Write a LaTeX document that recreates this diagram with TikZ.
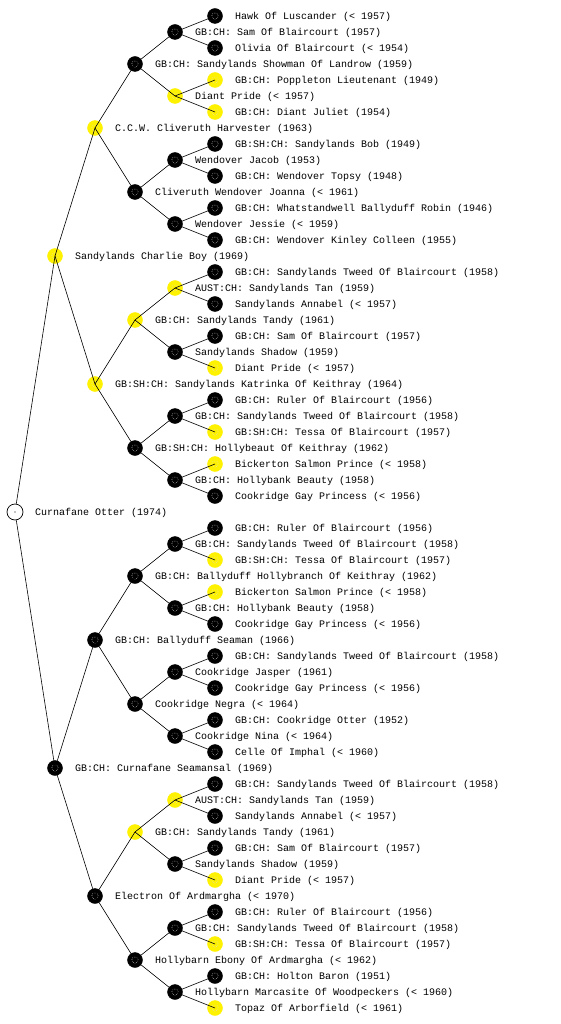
\documentclass[tikz,border=0pt]{standalone}
\usepackage{fontspec}
\setmonofont{Liberation Mono}
\newcommand\pnode[4]{% k, depth, colour, label
  \node[dot, fill=#3, draw=#3] (n#1) at ({15+40*#2},{16*#1}) {};
  \node[lbl] (l#1) at ({35+40*#2},{16*#1}) {#4};
}
\tikzset{
  dot/.style={circle, minimum size=15pt, inner sep=0pt, outer sep=0pt,
    path picture={\draw[white!70!gray, line width=0.5pt, dash pattern=on 0.6pt off 1.2pt]
      (path picture bounding box.center) circle (3.2pt);}},
  rootdot/.style={circle, draw=black, fill=white, minimum size=16pt, inner sep=0pt, line width=0.7pt},
  lbl/.style={anchor=base west, inner sep=0pt, yshift=-3.6pt, font=\ttfamily\fontsize{10}{12}\selectfont},
  edge/.style={draw=black, line width=0.6pt}
}
\begin{document}
\begin{tikzpicture}[x=1pt,y=-1pt]
\useasboundingbox (0,0) rectangle (560,1024);
\fill[white] (0,0) rectangle (560,1024);
\pnode{1}{5}{black}{Hawk Of Luscander (< 1957)}
\pnode{2}{4}{black}{GB:CH: Sam Of Blaircourt (1957)}
\pnode{3}{5}{black}{Olivia Of Blaircourt (< 1954)}
\pnode{4}{3}{black}{GB:CH: Sandylands Showman Of Landrow (1959)}
\pnode{5}{5}{yellow}{GB:CH: Poppleton Lieutenant (1949)}
\pnode{6}{4}{yellow}{Diant Pride (< 1957)}
\pnode{7}{5}{yellow}{GB:CH: Diant Juliet (1954)}
\pnode{8}{2}{yellow}{C.C.W. Cliveruth Harvester (1963)}
\pnode{9}{5}{black}{GB:SH:CH: Sandylands Bob (1949)}
\pnode{10}{4}{black}{Wendover Jacob (1953)}
\pnode{11}{5}{black}{GB:CH: Wendover Topsy (1948)}
\pnode{12}{3}{black}{Cliveruth Wendover Joanna (< 1961)}
\pnode{13}{5}{black}{GB:CH: Whatstandwell Ballyduff Robin (1946)}
\pnode{14}{4}{black}{Wendover Jessie (< 1959)}
\pnode{15}{5}{black}{GB:CH: Wendover Kinley Colleen (1955)}
\pnode{16}{1}{yellow}{Sandylands Charlie Boy (1969)}
\pnode{17}{5}{black}{GB:CH: Sandylands Tweed Of Blaircourt (1958)}
\pnode{18}{4}{yellow}{AUST:CH: Sandylands Tan (1959)}
\pnode{19}{5}{black}{Sandylands Annabel (< 1957)}
\pnode{20}{3}{yellow}{GB:CH: Sandylands Tandy (1961)}
\pnode{21}{5}{black}{GB:CH: Sam Of Blaircourt (1957)}
\pnode{22}{4}{black}{Sandylands Shadow (1959)}
\pnode{23}{5}{yellow}{Diant Pride (< 1957)}
\pnode{24}{2}{yellow}{GB:SH:CH: Sandylands Katrinka Of Keithray (1964)}
\pnode{25}{5}{black}{GB:CH: Ruler Of Blaircourt (1956)}
\pnode{26}{4}{black}{GB:CH: Sandylands Tweed Of Blaircourt (1958)}
\pnode{27}{5}{yellow}{GB:SH:CH: Tessa Of Blaircourt (1957)}
\pnode{28}{3}{black}{GB:SH:CH: Hollybeaut Of Keithray (1962)}
\pnode{29}{5}{yellow}{Bickerton Salmon Prince (< 1958)}
\pnode{30}{4}{black}{GB:CH: Hollybank Beauty (1958)}
\pnode{31}{5}{black}{Cookridge Gay Princess (< 1956)}
\node[rootdot] (n32) at (15,512) {};
\fill (n32.center) circle (0.7pt);
\node[lbl] (l32) at (35,512) {Curnafane Otter (1974)};
\pnode{33}{5}{black}{GB:CH: Ruler Of Blaircourt (1956)}
\pnode{34}{4}{black}{GB:CH: Sandylands Tweed Of Blaircourt (1958)}
\pnode{35}{5}{yellow}{GB:SH:CH: Tessa Of Blaircourt (1957)}
\pnode{36}{3}{black}{GB:CH: Ballyduff Hollybranch Of Keithray (1962)}
\pnode{37}{5}{yellow}{Bickerton Salmon Prince (< 1958)}
\pnode{38}{4}{black}{GB:CH: Hollybank Beauty (1958)}
\pnode{39}{5}{black}{Cookridge Gay Princess (< 1956)}
\pnode{40}{2}{black}{GB:CH: Ballyduff Seaman (1966)}
\pnode{41}{5}{black}{GB:CH: Sandylands Tweed Of Blaircourt (1958)}
\pnode{42}{4}{black}{Cookridge Jasper (1961)}
\pnode{43}{5}{black}{Cookridge Gay Princess (< 1956)}
\pnode{44}{3}{black}{Cookridge Negra (< 1964)}
\pnode{45}{5}{black}{GB:CH: Cookridge Otter (1952)}
\pnode{46}{4}{black}{Cookridge Nina (< 1964)}
\pnode{47}{5}{black}{Celle Of Imphal (< 1960)}
\pnode{48}{1}{black}{GB:CH: Curnafane Seamansal (1969)}
\pnode{49}{5}{black}{GB:CH: Sandylands Tweed Of Blaircourt (1958)}
\pnode{50}{4}{yellow}{AUST:CH: Sandylands Tan (1959)}
\pnode{51}{5}{black}{Sandylands Annabel (< 1957)}
\pnode{52}{3}{yellow}{GB:CH: Sandylands Tandy (1961)}
\pnode{53}{5}{black}{GB:CH: Sam Of Blaircourt (1957)}
\pnode{54}{4}{black}{Sandylands Shadow (1959)}
\pnode{55}{5}{yellow}{Diant Pride (< 1957)}
\pnode{56}{2}{black}{Electron Of Ardmargha (< 1970)}
\pnode{57}{5}{black}{GB:CH: Ruler Of Blaircourt (1956)}
\pnode{58}{4}{black}{GB:CH: Sandylands Tweed Of Blaircourt (1958)}
\pnode{59}{5}{yellow}{GB:SH:CH: Tessa Of Blaircourt (1957)}
\pnode{60}{3}{black}{Hollybarn Ebony Of Ardmargha (< 1962)}
\pnode{61}{5}{black}{GB:CH: Holton Baron (1951)}
\pnode{62}{4}{black}{Hollybarn Marcasite Of Woodpeckers (< 1960)}
\pnode{63}{5}{yellow}{Topaz Of Arborfield (< 1961)}
% edges
\draw[edge] (n32) -- (n16.center);
\draw[edge] (n32) -- (n48.center);
\foreach \p/\s in {16/8,48/8,8/4,24/4,40/4,56/4,4/2,12/2,20/2,28/2,36/2,44/2,52/2,60/2,
  2/1,6/1,10/1,14/1,18/1,22/1,26/1,30/1,34/1,38/1,42/1,46/1,50/1,54/1,58/1,62/1}{
  \pgfmathtruncatemacro\a{\p-\s}
  \pgfmathtruncatemacro\b{\p+\s}
  \draw[edge] (n\p.center) -- (n\a.center);
  \draw[edge] (n\p.center) -- (n\b.center);
}
\end{tikzpicture}
\end{document}
